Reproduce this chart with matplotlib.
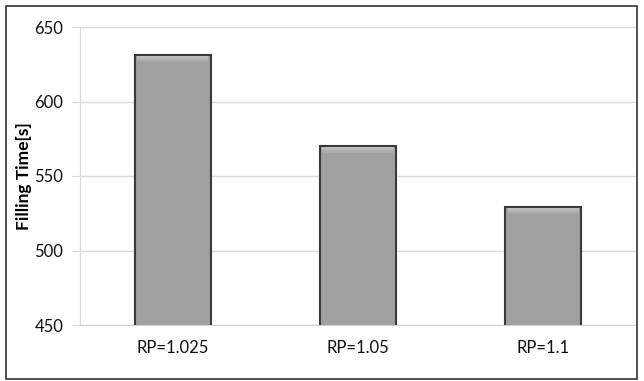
import numpy as np
import matplotlib.pyplot as plt
from matplotlib.patches import Rectangle

# data
categories = ['RP=1.025', 'RP=1.05', 'RP=1.1']
fill_time = [631, 570, 529]
yticks = [450, 500, 550, 600, 650]

plt.rcParams['font.family'] = ['Lato', 'DejaVu Sans']

fig = plt.figure(figsize=(6.44, 3.81), dpi=100)
ax = fig.add_axes([80/644, 1-325/381, 556/644, 298/381])

x = np.arange(len(categories))
bars = ax.bar(x, fill_time, width=0.41, color='#a0a0a0',
              edgecolor='#3a3a3a', linewidth=1.5, zorder=3)

# soft highlight at the top of each bar (gradient look)
shades = ['#bdbdbd', '#b4b4b4', '#aaaaaa']
for b in bars:
    for i, c in enumerate(shades):
        ax.bar(b.get_x() + b.get_width()/2, 1.3, width=b.get_width()*0.94,
               bottom=b.get_height() - 1.3*(i+1) - 0.6, color=c,
               linewidth=0, zorder=4)

ax.set_xlim(-0.5, 2.5)
ax.set_ylim(450, 650)
ax.set_yticks(yticks)
ax.set_xticks(x)
ax.set_xticklabels(categories)
ax.grid(axis='y', color='#d9d9d9', linewidth=1, zorder=0)
ax.tick_params(axis='y', length=6, color='#d9d9d9', labelsize=12, pad=6)
ax.tick_params(axis='x', length=0, labelsize=12, pad=11)
for lab in ax.get_yticklabels() + ax.get_xticklabels():
    lab.set_color('#111111')
for s in ['top', 'right']:
    ax.spines[s].set_visible(False)
ax.spines['left'].set_color('#d9d9d9')
ax.spines['bottom'].set_color('#d0d0d0')
ax.set_ylabel('Filling Time[s]', fontsize=12.5, fontweight='bold', labelpad=2)

# outer frame of the chart
fig.patches.append(Rectangle((6/644, 2/381), 631/644, 373/381,
                             transform=fig.transFigure, fill=False,
                             edgecolor='#333333', linewidth=1.2))

fig.savefig('out.png', dpi=100)
